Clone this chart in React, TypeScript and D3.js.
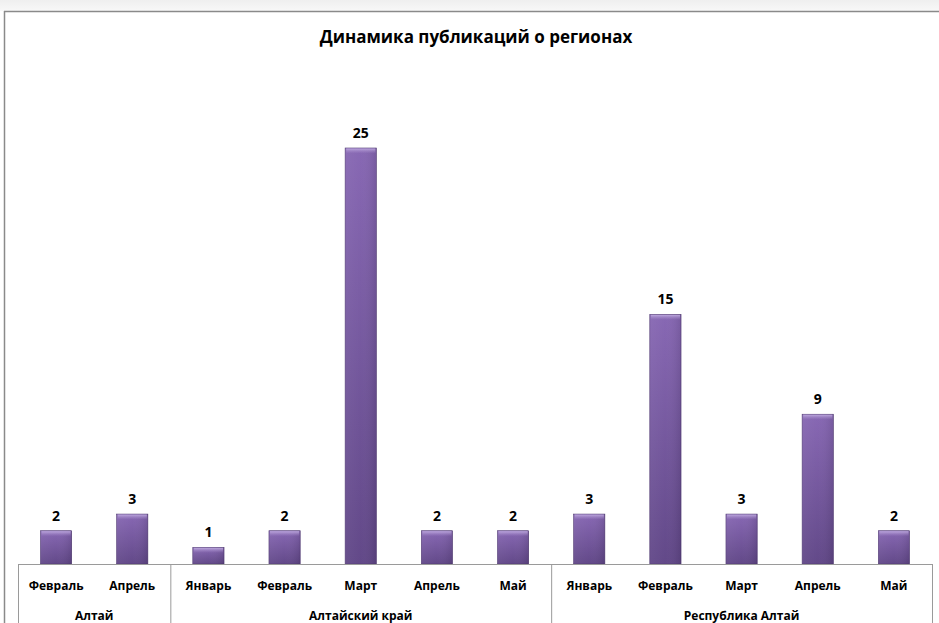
import React from "react";
import * as d3 from "d3";

const groups = ["Алтай", "Алтайский край", "Республика Алтай"];
const months = [
  ["Февраль", "Апрель"],
  ["Январь", "Февраль", "Март", "Апрель", "Май"],
  ["Январь", "Февраль", "Март", "Апрель", "Май"],
];
const values = [
  [2, 3],
  [1, 2, 25, 2, 2],
  [3, 15, 3, 9, 2],
];
const title = "Динамика публикаций о регионах";

const W = 939;
const H = 623;
const axisLeft = 18;
const axisRight = 932;
const baseY = 564;
const topY = 148;
const font = "'Open Sans', Lato, sans-serif";

export default function App() {
  const flat: { g: number; m: string; v: number; key: string }[] = [];
  months.forEach((ms, gi) =>
    ms.forEach((m, mi) => flat.push({ g: gi, m, v: values[gi][mi], key: `${gi}-${mi}` }))
  );
  const x = d3
    .scaleBand<string>()
    .domain(flat.map((d) => d.key))
    .range([axisLeft, axisRight])
    .paddingInner(0.59)
    .paddingOuter(0.295);
  const y = d3.scaleLinear().domain([0, 25]).range([baseY, topY]);

  const bounds: number[] = [axisLeft];
  let idx = 0;
  months.forEach((ms) => {
    idx += ms.length;
    bounds.push(axisLeft + idx * ((axisRight - axisLeft) / flat.length));
  });

  return (
    <div style={{ position: "fixed", left: 0, top: 0 }}>
      <svg width={W} height={H} style={{ display: "block" }}>
        <defs>
          <linearGradient id="topStrip" x1="0" y1="0" x2="0" y2="1">
            <stop offset="0" stopColor="#efefef" />
            <stop offset="1" stopColor="#f8f8f8" />
          </linearGradient>
          <linearGradient id="barV" x1="0" y1="0" x2="0" y2="1">
            <stop offset="0" stopColor="#8565b2" />
            <stop offset="1" stopColor="#5f4586" />
          </linearGradient>
          <linearGradient id="barH" x1="0" y1="0" x2="1" y2="0">
            <stop offset="0" stopColor="#ffffff" stopOpacity="0.06" />
            <stop offset="0.5" stopColor="#ffffff" stopOpacity="0.02" />
            <stop offset="1" stopColor="#000000" stopOpacity="0.1" />
          </linearGradient>
          <linearGradient id="bevel" x1="0" y1="0" x2="0" y2="1">
            <stop offset="0" stopColor="#c2aee2" stopOpacity="0.9" />
            <stop offset="1" stopColor="#a58ac9" stopOpacity="0" />
          </linearGradient>
        </defs>
        <rect x={0} y={0} width={W} height={H} fill="#ffffff" />
        <rect x={0} y={0} width={W} height={11} fill="url(#topStrip)" />
        <line x1={4} y1={11.5} x2={W} y2={11.5} stroke="#8a8a8a" strokeWidth={1.5} />
        <line x1={4.5} y1={11} x2={4.5} y2={H} stroke="#8a8a8a" strokeWidth={1.5} />

        <text
          x={476}
          y={43}
          textAnchor="middle"
          fontFamily={font}
          fontWeight="bold"
          fontSize={17}
          fill="#000"
        >
          {title}
        </text>

        {flat.map((d) => {
          const bx = x(d.key)!;
          const bw = x.bandwidth();
          const by = y(d.v);
          const bh = baseY - by;
          return (
            <g key={d.key}>
              <rect x={bx} y={by} width={bw} height={bh} fill="url(#barV)" stroke="#4e3870" strokeWidth={0.6} />
              <rect x={bx} y={by} width={bw} height={bh} fill="url(#barH)" />
              <rect x={bx + 1} y={by + 0.5} width={bw - 2} height={Math.min(5, bh - 1)} fill="url(#bevel)" />
              <text
                x={bx + bw / 2}
                y={by - 10}
                textAnchor="middle"
                fontFamily={font}
                fontWeight="bold"
                fontSize={14}
                fill="#000"
              >
                {d.v}
              </text>
              <text
                x={bx + bw / 2}
                y={590}
                textAnchor="middle"
                fontFamily={font}
                fontWeight="bold"
                fontSize={12}
                fill="#000"
              >
                {d.m}
              </text>
            </g>
          );
        })}

        <line x1={axisLeft} y1={baseY + 0.5} x2={axisRight} y2={baseY + 0.5} stroke="#9a9a9a" strokeWidth={1} />
        {bounds.map((b, i) => (
          <line key={i} x1={b + 0.5} y1={baseY} x2={b + 0.5} y2={H} stroke="#9a9a9a" strokeWidth={1} />
        ))}
        {groups.map((g, i) => (
          <text
            key={g}
            x={(bounds[i] + bounds[i + 1]) / 2}
            y={620}
            textAnchor="middle"
            fontFamily={font}
            fontWeight="bold"
            fontSize={12}
            fill="#000"
          >
            {g}
          </text>
        ))}
      </svg>
    </div>
  );
}
